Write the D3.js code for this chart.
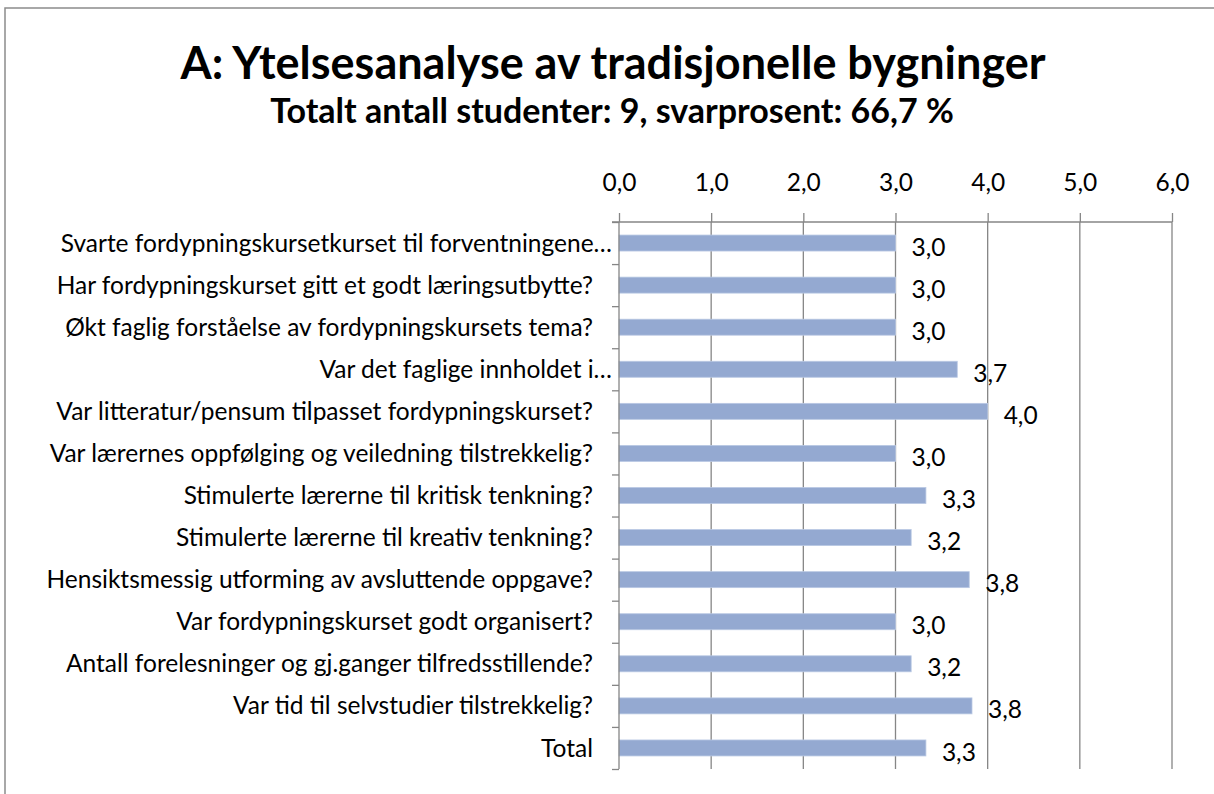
<!DOCTYPE html>
<html>
<head>
<meta charset="utf-8">
<script src="https://cdn.jsdelivr.net/npm/d3@7.9.0/dist/d3.min.js"></script>
<style>
  body { margin: 0; background: #fff; }
  svg { display: block; font-family: Lato, "Open Sans", sans-serif; }
</style>
</head>
<body>
<svg></svg>
<script>
const width = 1214;
const height = 794;

const title = "A: Ytelsesanalyse av tradisjonelle bygninger";
const subtitle = "Totalt antall studenter: 9, svarprosent: 66,7 %";

const categories = [
  "Svarte fordypningskursetkurset til forventningene…",
  "Har fordypningskurset gitt et godt læringsutbytte?",
  "Økt faglig forståelse av fordypningskursets tema?",
  "Var det faglige innholdet i…",
  "Var litteratur/pensum tilpasset fordypningskurset?",
  "Var lærernes oppfølging og veiledning tilstrekkelig?",
  "Stimulerte lærerne til kritisk tenkning?",
  "Stimulerte lærerne til kreativ tenkning?",
  "Hensiktsmessig utforming av avsluttende oppgave?",
  "Var fordypningskurset godt organisert?",
  "Antall forelesninger og gj.ganger tilfredsstillende?",
  "Var tid til selvstudier tilstrekkelig?",
  "Total"
];
const values = [3.0, 3.0, 3.0, 3.67, 4.0, 3.0, 3.33, 3.17, 3.8, 3.0, 3.17, 3.83, 3.33];
const xTicks = [0, 1, 2, 3, 4, 5, 6];

const margin = { top: 222, right: 42, bottom: 25, left: 619 };
const gridColor = "#868686";
const labelSize = 24.5;

const svg = d3.select("svg")
  .attr("width", width)
  .attr("height", height);

// outer chart frame
svg.append("rect")
  .attr("x", 5).attr("y", 8)
  .attr("width", width + 10).attr("height", height + 10)
  .attr("fill", "none")
  .attr("stroke", "#8c8c8c")
  .attr("stroke-width", 1.5);

svg.append("text")
  .attr("x", 613).attr("y", 79)
  .attr("text-anchor", "middle")
  .attr("font-weight", "bold")
  .attr("font-size", 45)
  .text(title);

svg.append("text")
  .attr("x", 612).attr("y", 123)
  .attr("text-anchor", "middle")
  .attr("font-weight", "bold")
  .attr("font-size", 34)
  .text(subtitle);

const x = d3.scaleLinear()
  .domain([0, 6])
  .range([margin.left, width - margin.right]);

const y = d3.scaleBand()
  .domain(categories)
  .range([margin.top, height - margin.bottom])
  .paddingInner(0.62)
  .paddingOuter(0.31);

const yEdge = d3.scaleLinear()
  .domain([0, categories.length])
  .range([margin.top, height - margin.bottom]);

// vertical gridlines
svg.append("g")
  .selectAll("line")
  .data(xTicks.slice(1))
  .join("line")
  .attr("x1", d => x(d)).attr("x2", d => x(d))
  .attr("y1", margin.top).attr("y2", height - margin.bottom)
  .attr("stroke", gridColor)
  .attr("stroke-width", 1.3);

// bars
svg.append("g")
  .selectAll("rect")
  .data(values)
  .join("rect")
  .attr("x", x(0))
  .attr("y", (d, i) => y(categories[i]))
  .attr("width", d => x(d) - x(0))
  .attr("height", y.bandwidth())
  .attr("fill", "#94a9d1")
  .attr("stroke", "#b9c8e3")
  .attr("stroke-width", 0.8);

// top axis
const topAxis = svg.append("g")
  .attr("transform", `translate(0,${margin.top})`)
  .call(d3.axisTop(x)
    .tickValues(xTicks)
    .tickSize(9)
    .tickPadding(22)
    .tickFormat(d => d.toFixed(1).replace(".", ",")));
topAxis.select(".domain").remove();
topAxis.selectAll("line").attr("stroke", gridColor).attr("stroke-width", 1.3);
topAxis.selectAll("text")
  .attr("font-size", labelSize)
  .attr("font-family", "Lato, 'Open Sans', sans-serif")
  .attr("fill", "#000");
topAxis.append("line")
  .attr("x1", x(0) - 7).attr("x2", x(6))
  .attr("stroke", gridColor).attr("stroke-width", 1.3);

// left axis: ticks at category edges
const leftAxis = svg.append("g")
  .attr("transform", `translate(${x(0)},0)`)
  .call(d3.axisLeft(yEdge)
    .tickValues(d3.range(categories.length + 1))
    .tickSize(7)
    .tickFormat(""));
leftAxis.select(".domain").attr("stroke", gridColor).attr("stroke-width", 1.3).attr("d", `M0,${margin.top}V${height - margin.bottom}`);
leftAxis.selectAll("line").attr("stroke", gridColor).attr("stroke-width", 1.3);

// category labels
svg.append("g")
  .selectAll("text")
  .data(categories)
  .join("text")
  .attr("x", d => x(0) - (d.endsWith("…") ? 7 : 26))
  .attr("y", d => y(d) + y.bandwidth() / 2)
  .attr("dy", "0.35em")
  .attr("text-anchor", "end")
  .attr("font-size", labelSize)
  .text(d => d);

// value labels
svg.append("g")
  .selectAll("text")
  .data(values)
  .join("text")
  .attr("x", d => x(d) + 16)
  .attr("y", (d, i) => y(categories[i]) + y.bandwidth() / 2 + 4)
  .attr("dy", "0.35em")
  .attr("font-size", labelSize)
  .text(d => d.toFixed(1).replace(".", ","));
</script>
</body>
</html>
